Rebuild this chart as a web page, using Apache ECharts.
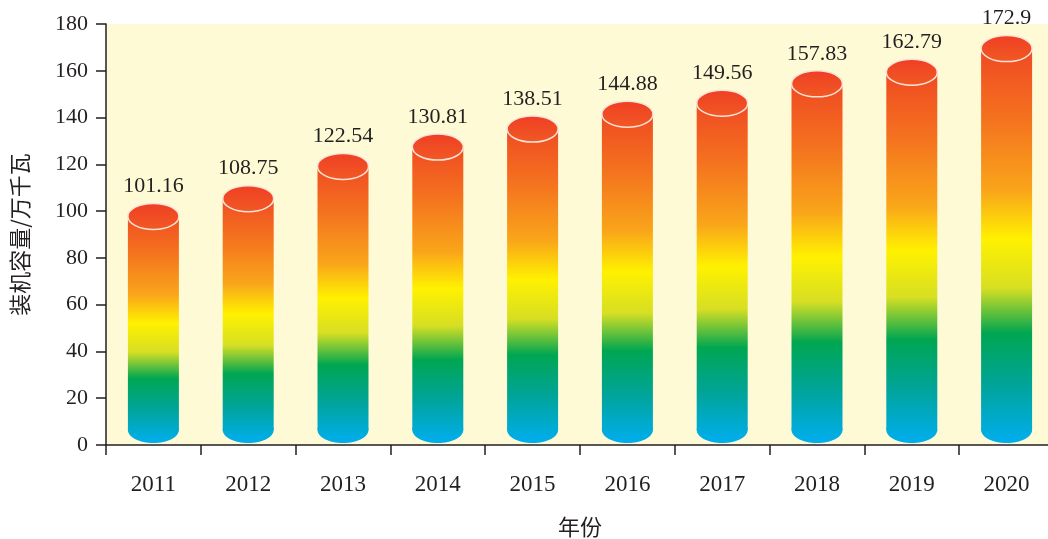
<!DOCTYPE html>
<html>
<head>
<meta charset="utf-8">
<script src="https://cdn.jsdelivr.net/npm/echarts@6/dist/echarts.min.js"></script>
<style>html,body{margin:0;padding:0;background:#fff}#c{width:1048px;height:539px}</style>
</head>
<body>
<div id="c"></div>
<script>
var categories = ['2011','2012','2013','2014','2015','2016','2017','2018','2019','2020'];
var values = [101.16, 108.75, 122.54, 130.81, 138.51, 144.88, 149.56, 157.83, 162.79, 172.9];
var yTicks = { min: 0, max: 180, interval: 20 };
var yName = '装机容量/万千瓦';
var xName = '年份';

var serif = '"Liberation Serif","Times New Roman",serif';
var cjk = '"Noto Sans CJK SC","Noto Sans CJK JP",sans-serif';
var ink = '#231f20';
var stops = [
  {offset: 0, color: '#ef4123'},
  {offset: 0.2, color: '#f4711f'},
  {offset: 0.38, color: '#f9a51a'},
  {offset: 0.5, color: '#fff100'},
  {offset: 0.62, color: '#d7df23'},
  {offset: 0.73, color: '#00a651'},
  {offset: 0.86, color: '#00a49a'},
  {offset: 1, color: '#00aeef'}
];

var chart = echarts.init(document.getElementById('c'));

function renderItem(params, api) {
  var idx = api.value(0);
  var val = api.value(1);
  var top = api.coord([idx, val]);
  var bot = api.coord([idx, 0]);
  var cx = top[0];
  var w = 51, rx = w / 2, ry = 13;
  var topY = top[1] - 5;
  var botY = bot[1] - 2;
  var grad = new echarts.graphic.LinearGradient(0, topY, 0, botY, stops, true);
  return {
    type: 'group',
    children: [
      { type: 'rect', shape: { x: cx - rx, y: topY + ry, width: w, height: (botY - ry) - (topY + ry) }, style: { fill: grad } },
      { type: 'ellipse', shape: { cx: cx, cy: botY - ry, rx: rx, ry: ry }, style: { fill: grad } },
      { type: 'ellipse', shape: { cx: cx, cy: topY + ry, rx: rx, ry: ry },
        style: { fill: new echarts.graphic.LinearGradient(0, 0, 0, 1, [{offset:0,color:'#ef3e24'},{offset:1,color:'#f15a24'}]), stroke: '#fbe3d8', lineWidth: 1.5 } },
      { type: 'text', style: { text: api.value(2), x: cx, y: topY - 6, align: 'center', verticalAlign: 'bottom', font: '22px ' + serif, fill: ink } }
    ]
  };
}

chart.setOption({
  animation: false,
  grid: { left: 106, right: -6, top: 24, bottom: 94, show: true, backgroundColor: '#fffad6', borderWidth: 0, containLabel: false, outerBoundsMode: 'none' },
  xAxis: {
    type: 'category', data: categories,
    name: xName, nameLocation: 'middle', nameGap: 71,
    nameTextStyle: { fontFamily: cjk, fontSize: 22, color: ink },
    axisLine: { lineStyle: { color: ink, width: 1.5 } },
    axisTick: { show: true, length: 10, lineStyle: { color: ink, width: 1.5 } },
    axisLabel: { margin: 28, fontFamily: serif, fontSize: 23, color: ink }
  },
  yAxis: {
    type: 'value', min: yTicks.min, max: yTicks.max, interval: yTicks.interval,
    name: yName, nameLocation: 'middle', nameRotate: 90, nameGap: 75,
    nameTextStyle: { fontFamily: cjk, fontSize: 22, color: ink },
    axisLine: { show: true, lineStyle: { color: ink, width: 1.5 } },
    axisTick: { show: true, length: 10, lineStyle: { color: ink, width: 1.5 } },
    axisLabel: { margin: 18, fontFamily: serif, fontSize: 22, color: ink },
    splitLine: { show: false }
  },
  series: [{
    type: 'custom',
    renderItem: renderItem,
    encode: { x: 0, y: 1 },
    data: values.map(function (v, i) { return [i, v, String(v)]; }),
    clip: false
  }]
});
</script>
</body>
</html>
